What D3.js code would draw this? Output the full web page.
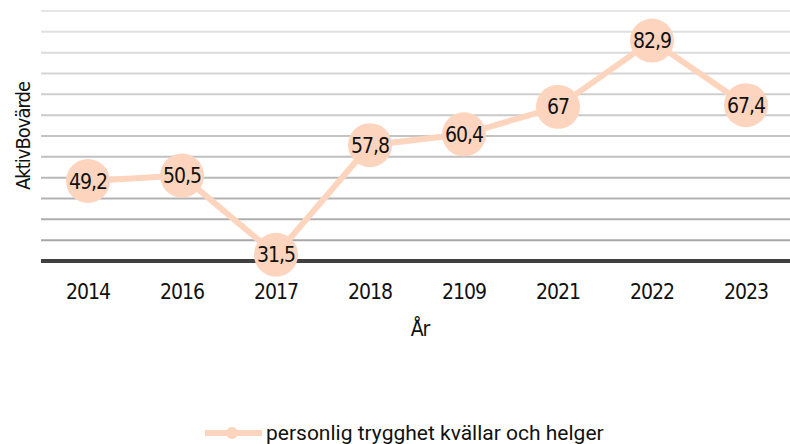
<!DOCTYPE html>
<meta charset="utf-8">
<style>
    body { margin: 0; background: #fff; }
    text { fill: #111; }
    .narrow { font-family: "Liberation Sans Narrow", "DejaVu Sans Condensed", sans-serif; letter-spacing: -1px; }
</style>
<svg width="790" height="444"></svg>
<script src="https://d3js.org/d3.v7.min.js"></script>
<script>

    // years on the x axis (as shown, including the odd "2109")
    var years = ["2014", "2016", "2017", "2018", "2109", "2021", "2022", "2023"];
    var values = [49.2, 50.5, 31.5, 57.8, 60.4, 67, 82.9, 67.4];
    var labels = ["49,2", "50,5", "31,5", "57,8", "60,4", "67", "82,9", "67,4"];
    var gridTicks = d3.range(30, 91, 5);
    var seriesName = "personlig trygghet kvällar och helger";

    var svg = d3.select("svg"),
        color = "#fdd5be";

    var x = d3.scaleBand()
        .domain(years)
        .range([41, 793]);

    var y = d3.scaleLinear()
        .domain([30, 90])
        .range([261, 11]);

    // grid lines, light at top and darker towards the bottom
    var shade = d3.scaleLinear()
        .domain([90, 35])
        .range(["#e6e6e6", "#a8a8a8"]);

    svg.append("g")
        .selectAll("line")
        .data(gridTicks.filter(function (d) { return d > 30; }))
        .join("line")
        .attr("x1", 41)
        .attr("x2", 790)
        .attr("y1", function (d) { return y(d); })
        .attr("y2", function (d) { return y(d); })
        .attr("stroke", function (d) { return shade(d); })
        .attr("stroke-width", 2);

    // baseline
    svg.append("line")
        .attr("x1", 41)
        .attr("x2", 790)
        .attr("y1", y(30))
        .attr("y2", y(30))
        .attr("stroke", "#404040")
        .attr("stroke-width", 4);

    // x axis labels
    var xAxis = svg.append("g")
        .attr("transform", "translate(0," + y(30) + ")")
        .call(d3.axisBottom(x).tickSize(0).tickPadding(23));
    xAxis.select(".domain").remove();
    xAxis.selectAll("text")
        .attr("class", "narrow")
        .attr("font-family", null)
        .style("font-size", "21px")
        .attr("fill", "#111");

    svg.append("text")
        .attr("class", "narrow")
        .attr("x", 420)
        .attr("y", 336)
        .attr("text-anchor", "middle")
        .style("font-size", "21px")
        .text("År");

    svg.append("text")
        .attr("class", "narrow")
        .attr("transform", "translate(30,136) rotate(-90)")
        .attr("text-anchor", "middle")
        .style("font-size", "20px")
        .text("AktivBovärde");

    var line = d3.line()
        .x(function (d, i) { return x(years[i]) + x.bandwidth() / 2; })
        .y(function (d) { return y(d); });

    svg.append("path")
        .datum(values)
        .attr("d", line)
        .attr("fill", "none")
        .attr("stroke", color)
        .attr("stroke-width", 6);

    var pts = svg.append("g")
        .selectAll("g")
        .data(values)
        .join("g")
        .attr("transform", function (d, i) {
            return "translate(" + (x(years[i]) + x.bandwidth() / 2) + "," + y(d) + ")";
        });

    pts.append("circle")
        .attr("r", 22)
        .attr("fill", color);

    pts.append("text")
        .attr("class", "narrow")
        .attr("text-anchor", "middle")
        .attr("dy", "0.36em")
        .style("font-size", "21px")
        .text(function (d, i) { return labels[i]; });

    // legend
    var legend = svg.append("g").attr("transform", "translate(0,433)");
    legend.append("line")
        .attr("x1", 205)
        .attr("x2", 262)
        .attr("stroke", color)
        .attr("stroke-width", 6);
    legend.append("circle")
        .attr("cx", 232)
        .attr("r", 6)
        .attr("fill", color);
    legend.append("text")
        .attr("x", 266)
        .attr("dy", "0.35em")
        .style("font-family", "Roboto, sans-serif")
        .style("font-size", "21px")
        .text(seriesName);

</script>
